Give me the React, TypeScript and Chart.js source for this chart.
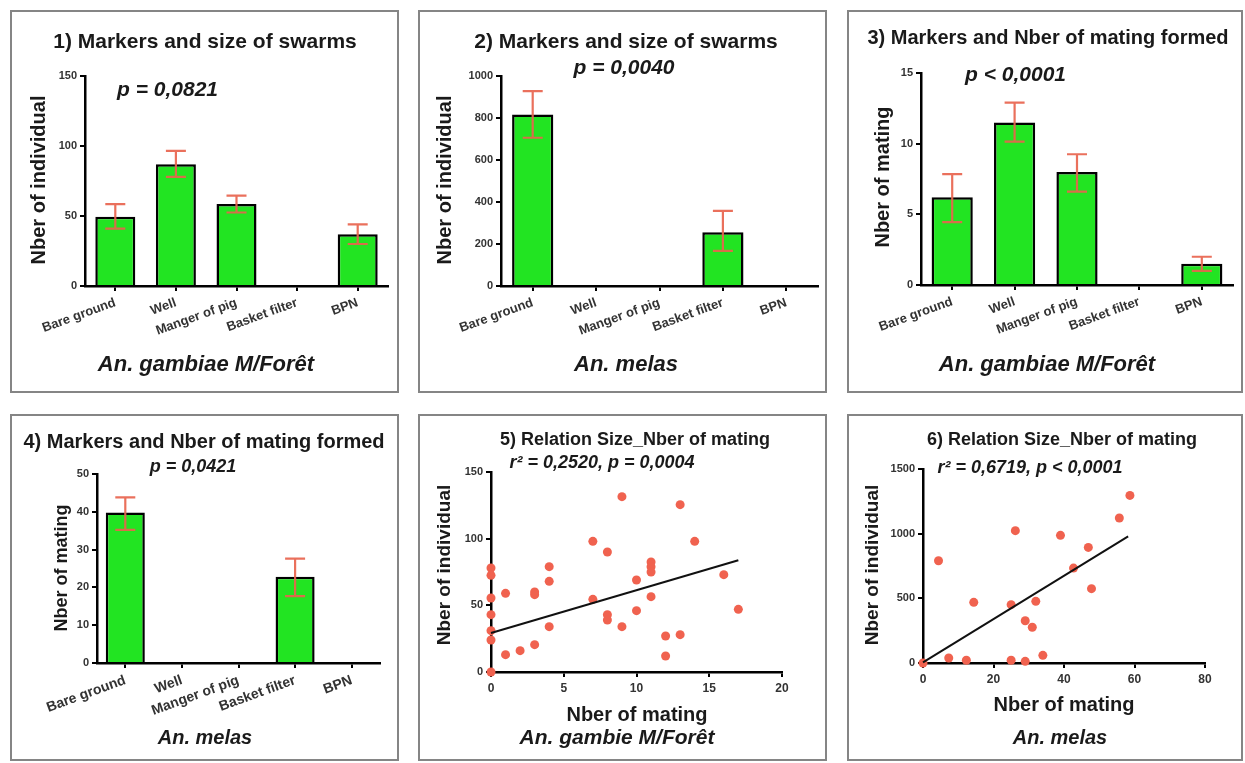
import React, { useEffect, useRef } from 'react';
import { Chart, registerables } from 'chart.js';

Chart.register(...registerables);

const FONT = "'Liberation Sans', Arial, Helvetica, sans-serif";
const GREEN = '#22e422';
const ERR = 'rgba(232,100,78,0.92)';
const DOT = '#f0624f';
const INK = '#1a1a1a';

// ---------- data ----------
const categories = ['Bare ground', 'Well', 'Manger of pig', 'Basket filter', 'BPN'];

const swarmGambiaeMean = [49.5, 87, 58.5, 0, 37];
const swarmGambiaeLow = [41, 78, 52.5, null, 30];
const swarmGambiaeHigh = [58.5, 96.5, 64.5, null, 44];

const swarmMelasMean = [817, 0, 0, 256, 0];
const swarmMelasLow = [706, null, null, 167, null];
const swarmMelasHigh = [928, null, null, 358, null];

const matingGambiaeMean = [6.2, 11.5, 8.0, 0, 1.5];
const matingGambiaeLow = [4.45, 10.15, 6.6, null, 1.0];
const matingGambiaeHigh = [7.85, 12.9, 9.25, null, 2.0];

const matingMelasMean = [39.8, 0, 0, 22.8, 0];
const matingMelasLow = [35.2, null, null, 17.7, null];
const matingMelasHigh = [43.8, null, null, 27.6, null];

const gambiaeMatings = [0, 0, 0, 0, 0, 0, 0, 1, 1, 2, 3, 3, 3, 4, 4, 4, 7, 7, 8, 8, 8, 9, 9, 10, 10, 11, 11, 11, 11, 12, 12, 13, 13, 14, 16, 17];
const gambiaeSizes = [78, 72.5, 55.5, 43, 31, 24, 0, 59, 13, 16, 60, 58, 20.5, 79, 68, 34, 98, 54.5, 90, 43, 39, 131.5, 34, 69, 46, 82.5, 79, 75, 56.5, 27, 12, 125.5, 28, 98, 73, 47];
const gambiaeFitX = [0, 17];
const gambiaeFitY = [29.3, 83.8];

const melasMatings = [0, 4.4, 7.3, 12.3, 14.4, 25, 25, 26.2, 29, 29, 31, 32, 34, 39, 42.7, 46.9, 47.8, 55.7, 58.7];
const melasSizes = [0, 791, 39, 21, 469, 451, 21, 1023, 327, 13, 276, 477, 59, 987, 734, 894, 575, 1121, 1296];
const melasFitX = [0, 58.2];
const melasFitY = [5, 979];

// ---------- plugins ----------
type TextItem = { t: string; x: number; y: number; size: number; italic?: boolean; rot?: boolean; align?: CanvasTextAlign };

function textPlugin(items: TextItem[]) {
  return {
    id: 'panelText',
    afterDraw(chart: any) {
      const ctx = chart.ctx;
      items.forEach((it) => {
        ctx.save();
        ctx.fillStyle = INK;
        ctx.font = `${it.italic ? 'italic ' : ''}bold ${it.size}px ${FONT}`;
        ctx.textAlign = it.align || 'center';
        ctx.textBaseline = 'middle';
        ctx.translate(it.x, it.y);
        if (it.rot) ctx.rotate(-Math.PI / 2);
        ctx.fillText(it.t, 0, 0);
        ctx.restore();
      });
    },
  };
}

function errorBarPlugin(low: (number | null)[], high: (number | null)[]) {
  return {
    id: 'errorBars',
    afterDatasetsDraw(chart: any) {
      const ctx = chart.ctx;
      const meta = chart.getDatasetMeta(0);
      const ys = chart.scales.y;
      ctx.save();
      ctx.strokeStyle = ERR;
      ctx.lineWidth = 2.2;
      meta.data.forEach((el: any, i: number) => {
        const lo = low[i];
        const hi = high[i];
        if (lo == null || hi == null) return;
        const x = el.x;
        const y1 = ys.getPixelForValue(lo);
        const y2 = ys.getPixelForValue(hi);
        ctx.beginPath();
        ctx.moveTo(x, y1);
        ctx.lineTo(x, y2);
        ctx.moveTo(x - 10, y1);
        ctx.lineTo(x + 10, y1);
        ctx.moveTo(x - 10, y2);
        ctx.lineTo(x + 10, y2);
        ctx.stroke();
      });
      ctx.restore();
    },
  };
}

type Area = { l: number; r: number; t: number; b: number };

const plainNumber = (v: any) => String(v);

function axisCommon(tickSize: number) {
  return {
    grid: { display: true, drawOnChartArea: false, drawTicks: true, tickLength: 5, color: '#000', lineWidth: 2 },
    border: { display: true, color: '#000', width: 2.5 },
    ticks: { color: '#333', font: { family: FONT, size: tickSize, weight: 'bold' }, callback: plainNumber },
  };
}

function barConfig(p: {
  mean: number[]; low: (number | null)[]; high: (number | null)[]; max: number; step: number;
  w: number; h: number; area: Area; barPct: number; xFont: number; texts: TextItem[];
}) {
  const ax = axisCommon(11);
  return {
    type: 'bar',
    data: {
      labels: categories,
      datasets: [{
        data: p.mean, backgroundColor: GREEN, borderColor: '#000', borderWidth: 2.5,
        barPercentage: p.barPct, categoryPercentage: 1,
      }],
    },
    options: {
      responsive: false, animation: false,
      layout: { padding: { left: 0, right: p.w - p.area.r, top: p.area.t, bottom: 0 } },
      plugins: { legend: { display: false }, tooltip: { enabled: false }, title: { display: false } },
      scales: {
        x: {
          type: 'category', offset: true,
          grid: { ...ax.grid, offset: false },
          border: ax.border,
          ticks: { color: '#333', font: { family: FONT, size: p.xFont, weight: 'bold' }, minRotation: 20, maxRotation: 20, autoSkip: false, padding: 4 },
          afterFit: (s: any) => { s.height = p.h - p.area.b; },
        },
        y: {
          min: 0, max: p.max,
          grid: ax.grid, border: ax.border,
          ticks: { ...ax.ticks, stepSize: p.step, padding: 3 },
          afterFit: (s: any) => { s.width = p.area.l; },
        },
      },
    },
    plugins: [errorBarPlugin(p.low, p.high), textPlugin(p.texts)],
  };
}

function scatterConfig(p: {
  xs: number[]; ys: number[]; fitX: number[]; fitY: number[]; xMax: number; xStep: number; yMax: number; yStep: number;
  w: number; h: number; area: Area; texts: TextItem[];
}) {
  const ax = axisCommon(11);
  return {
    type: 'scatter',
    data: {
      datasets: [
        {
          type: 'line', data: p.fitX.map((x, i) => ({ x, y: p.fitY[i] })),
          borderColor: '#111', borderWidth: 2, pointRadius: 0, fill: false, clip: false,
        },
        {
          type: 'scatter', data: p.xs.map((x, i) => ({ x, y: p.ys[i] })),
          backgroundColor: DOT, borderWidth: 0, pointRadius: 4.5, clip: false,
        },
      ],
    },
    options: {
      responsive: false, animation: false,
      layout: { padding: { left: 0, right: p.w - p.area.r, top: p.area.t, bottom: 0 } },
      plugins: { legend: { display: false }, tooltip: { enabled: false } },
      scales: {
        x: {
          type: 'linear', min: 0, max: p.xMax,
          grid: ax.grid, border: ax.border,
          ticks: { ...ax.ticks, font: { family: FONT, size: 12, weight: 'bold' }, stepSize: p.xStep, padding: 4 },
          afterFit: (s: any) => { s.height = p.h - p.area.b; },
        },
        y: {
          type: 'linear', min: 0, max: p.yMax,
          grid: ax.grid, border: ax.border,
          ticks: { ...ax.ticks, stepSize: p.yStep, padding: 3 },
          afterFit: (s: any) => { s.width = p.area.l; },
        },
      },
    },
    plugins: [textPlugin(p.texts)],
  };
}

// ---------- panels ----------
const panels = [
  {
    x: 10, y: 10, w: 389, h: 383,
    config: () => barConfig({
      mean: swarmGambiaeMean, low: swarmGambiaeLow, high: swarmGambiaeHigh, max: 150, step: 50,
      w: 389, h: 383, area: { l: 75, r: 378, t: 66, b: 276 }, barPct: 0.66, xFont: 13,
      texts: [
        { t: '1) Markers and size of swarms', x: 195, y: 32, size: 21 },
        { t: 'p = 0,0821', x: 107, y: 80, size: 21, italic: true, align: 'left' },
        { t: 'Nber of individual', x: 29, y: 170, size: 20, rot: true },
        { t: 'An. gambiae M/Forêt', x: 196, y: 355, size: 22, italic: true },
      ],
    }),
  },
  {
    x: 418, y: 10, w: 409, h: 383,
    config: () => barConfig({
      mean: swarmMelasMean, low: swarmMelasLow, high: swarmMelasHigh, max: 1000, step: 200,
      w: 409, h: 383, area: { l: 83, r: 400, t: 66, b: 276 }, barPct: 0.65, xFont: 13,
      texts: [
        { t: '2) Markers and size of swarms', x: 208, y: 32, size: 21 },
        { t: 'p = 0,0040', x: 206, y: 58, size: 21, italic: true },
        { t: 'Nber of individual', x: 27, y: 170, size: 20, rot: true },
        { t: 'An. melas', x: 208, y: 355, size: 22, italic: true },
      ],
    }),
  },
  {
    x: 847, y: 10, w: 396, h: 383,
    config: () => barConfig({
      mean: matingGambiaeMean, low: matingGambiaeLow, high: matingGambiaeHigh, max: 15, step: 5,
      w: 396, h: 383, area: { l: 74, r: 386, t: 63, b: 275 }, barPct: 0.66, xFont: 13,
      texts: [
        { t: '3) Markers and Nber of mating formed', x: 201, y: 28, size: 20 },
        { t: 'p < 0,0001', x: 118, y: 65, size: 21, italic: true, align: 'left' },
        { t: 'Nber of mating', x: 36, y: 167, size: 20, rot: true },
        { t: 'An. gambiae M/Forêt', x: 200, y: 355, size: 22, italic: true },
      ],
    }),
  },
  {
    x: 10, y: 414, w: 389, h: 347,
    config: () => barConfig({
      mean: matingMelasMean, low: matingMelasLow, high: matingMelasHigh, max: 50, step: 10,
      w: 389, h: 347, area: { l: 87, r: 370, t: 60, b: 249 }, barPct: 0.69, xFont: 14,
      texts: [
        { t: '4) Markers and Nber of mating formed', x: 194, y: 28, size: 20 },
        { t: 'p = 0,0421', x: 183, y: 53, size: 18, italic: true },
        { t: 'Nber of mating', x: 52, y: 154, size: 18, rot: true },
        { t: 'An. melas', x: 195, y: 324, size: 20, italic: true },
      ],
    }),
  },
  {
    x: 418, y: 414, w: 409, h: 347,
    config: () => scatterConfig({
      xs: gambiaeMatings, ys: gambiaeSizes, fitX: gambiaeFitX, fitY: gambiaeFitY,
      xMax: 20, xStep: 5, yMax: 150, yStep: 50,
      w: 409, h: 347, area: { l: 73, r: 364, t: 58, b: 258 },
      texts: [
        { t: '5) Relation Size_Nber of mating', x: 217, y: 26, size: 18 },
        { t: 'r² = 0,2520, p = 0,0004', x: 184, y: 49, size: 18, italic: true },
        { t: 'Nber of individual', x: 27, y: 151, size: 19, rot: true },
        { t: 'Nber of mating', x: 219, y: 301, size: 20 },
        { t: 'An. gambie M/Forêt', x: 199, y: 324, size: 21, italic: true },
      ],
    }),
  },
  {
    x: 847, y: 414, w: 396, h: 347,
    config: () => scatterConfig({
      xs: melasMatings, ys: melasSizes, fitX: melasFitX, fitY: melasFitY,
      xMax: 80, xStep: 20, yMax: 1500, yStep: 500,
      w: 396, h: 347, area: { l: 76, r: 358, t: 55, b: 249 },
      texts: [
        { t: '6) Relation Size_Nber of mating', x: 215, y: 26, size: 18 },
        { t: 'r² = 0,6719, p < 0,0001', x: 183, y: 54, size: 18, italic: true },
        { t: 'Nber of individual', x: 26, y: 151, size: 19, rot: true },
        { t: 'Nber of mating', x: 217, y: 291, size: 20 },
        { t: 'An. melas', x: 213, y: 324, size: 20, italic: true },
      ],
    }),
  },
];

function Panel({ spec }: { spec: any }) {
  const ref = useRef<HTMLCanvasElement | null>(null);
  useEffect(() => {
    if (!ref.current) return;
    const chart = new Chart(ref.current, spec.config() as any);
    return () => chart.destroy();
  }, []);
  return (
    <div style={{ position: 'absolute', left: spec.x, top: spec.y, width: spec.w, height: spec.h }}>
      <canvas ref={ref} width={spec.w} height={spec.h}
        style={{ position: 'absolute', left: 0, top: 0, width: spec.w, height: spec.h }} />
      <div style={{ position: 'absolute', inset: 0, border: '2px solid #858585', boxSizing: 'border-box', pointerEvents: 'none' }} />
    </div>
  );
}

export default function App() {
  return (
    <div style={{ position: 'absolute', left: 0, top: 0, width: 1245, height: 763, background: '#fff', overflow: 'hidden' }}>
      {panels.map((p, i) => <Panel key={i} spec={p} />)}
    </div>
  );
}
